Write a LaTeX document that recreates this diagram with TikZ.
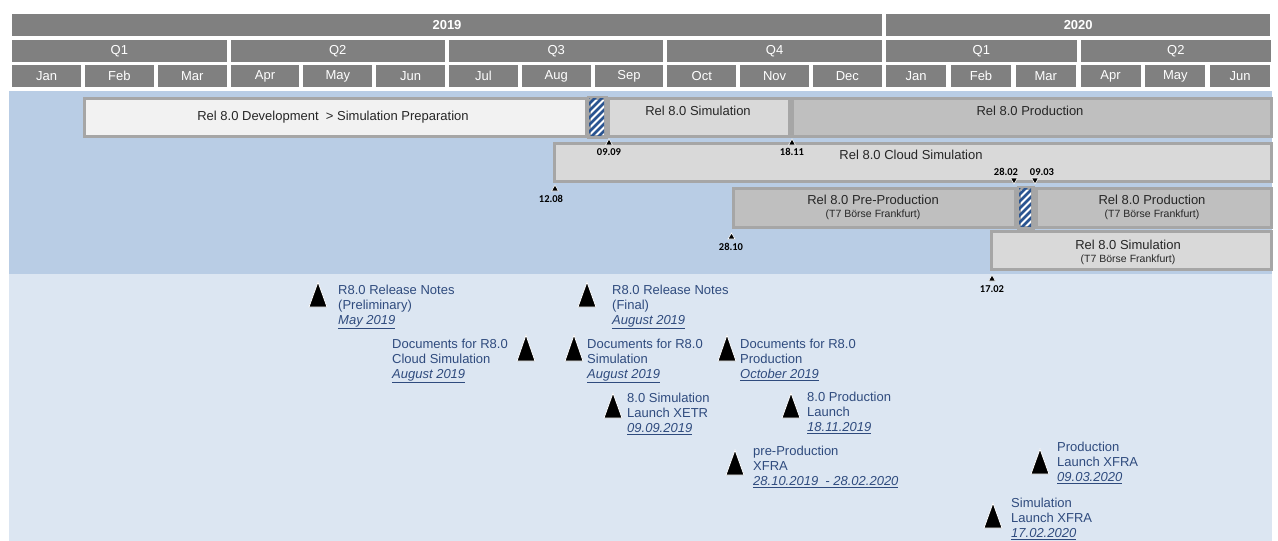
\documentclass[tikz,border=0pt]{standalone}
\usepackage{fontspec}
\setmainfont{Liberation Sans}
\newfontfamily\carlito{Carlito}
\usetikzlibrary{calc}
\definecolor{hdr}{HTML}{808080}
\definecolor{bandA}{HTML}{B9CDE5}
\definecolor{bandB}{HTML}{DCE6F2}
\definecolor{barL}{HTML}{F2F2F2}
\definecolor{barM}{HTML}{D9D9D9}
\definecolor{barD}{HTML}{BFBFBF}
\definecolor{brd}{HTML}{A6A6A6}
\definecolor{hatchblue}{HTML}{2A5490}
\definecolor{mstext}{HTML}{2F4B7E}
\definecolor{bartext}{HTML}{262626}
\newcommand\smalltxtfont{\fontsize{10.5}{12}\selectfont}
\newcommand\rectnode[6]{\node[#1, minimum width={#4-#2}, minimum height={#5-#3}, anchor=north west] (#6) at (#2,#3) {};}
\newcommand\mstri[4]{% name, cx, top, bottom
  \coordinate (#1) at (#2,#3);
  \fill[black, draw=white, line width=0.8pt] (#2-9,#4) -- (#2+9,#4) -- (#2,#3) -- cycle;}
\newcommand\uptri[3]{% name, cx, cy
  \coordinate (#1) at (#2,#3);
  \fill[black, draw=white, line width=0.6pt] (#2-3.5,#3+3) -- (#2+3.5,#3+3) -- (#2,#3-3) -- cycle;}
\newcommand\dntri[3]{%
  \coordinate (#1) at (#2,#3);
  \fill[black, draw=white, line width=0.6pt] (#2-3.5,#3-3) -- (#2+3.5,#3-3) -- (#2,#3+3) -- cycle;}
\newcommand\ulit[1]{\underline{\textit{#1}}}
\begin{document}
\begin{tikzpicture}[x=1pt,y=-1pt,
  hbox/.style={fill=hdr, draw=none, text=white, inner sep=0pt, font=\fontsize{13}{13}\selectfont},
  bar/.style={draw=brd, line width=2.6pt, inner sep=0pt},
  bartxt/.style={text=bartext, inner sep=0pt, align=center, font=\fontsize{13}{15}\selectfont},
  ms/.style={text=mstext, inner sep=0pt, align=left, anchor=north west, font=\fontsize{13}{14.7}\selectfont},
  dlab/.style={font=\carlito\bfseries\fontsize{10.5}{11}\selectfont, inner sep=0pt, text=black}]
\useasboundingbox (0,0) rectangle (1278,541);
\fill[white] (0,0) rectangle (1278,541);
% bands
\fill[bandA] (9,90.5) rectangle (1272,274);
\fill[bandB] (9,274) rectangle (1272,541);
% header years
\node[hbox, font=\bfseries\fontsize{13}{13}\selectfont, minimum width=869.6, minimum height=22, anchor=north west] (y2019) at (12,14) {2019};
\node[hbox, font=\bfseries\fontsize{13}{13}\selectfont, minimum width=384, minimum height=22, anchor=north west] (y2020) at (886,14) {2020};
% quarters
\foreach \q [count=\i from 0] in {Q1,Q2,Q3,Q4}
  \node[hbox, minimum width=214.4, minimum height=21.5, anchor=north west] (q19-\i) at ({12+218.4*\i},40) {\q};
\foreach \q [count=\i from 0] in {Q1,Q2}
  \node[hbox, minimum width=190.4, minimum height=21.5, anchor=north west] (q20-\i) at ({886+194.4*\i},40) {\q};
% months
\foreach \m [count=\i from 0] in {Jan,Feb,Mar,Apr,May,Jun,Jul,Aug,Sep,Oct,Nov,Dec}
  \node[hbox, minimum width=68.8, minimum height=21.5, anchor=north west] (m19-\i) at ({12+72.8*\i},65) {\m};
\foreach \m [count=\i from 0] in {Jan,Feb,Mar,Apr,May,Jun}
  \node[hbox, minimum width=60, minimum height=21.5, anchor=north west] (m20-\i) at ({886+64.8*\i},65) {\m};
% bars row 1
\rectnode{bar, fill=barL}{83}{97}{585}{135}{dev}
\rectnode{bar, fill=white}{588}{97}{604}{135}{hatchA}
\rectnode{bar, fill=barM}{607}{97}{788}{135}{sim}
\rectnode{bar, fill=barD}{791}{97}{1270}{135}{prod}
% cloud
\rectnode{bar, fill=barM}{553}{142}{1270}{180}{cloud}
% row 3
\rectnode{bar, fill=barD}{732}{187}{1014}{226}{preprod}
\rectnode{bar, fill=white}{1018}{187}{1031}{226}{hatchB}
\rectnode{bar, fill=barD}{1035}{187}{1270}{226}{prodT}
% row 4
\rectnode{bar, fill=barM}{990}{230}{1270}{268}{simT}
% hatching
\begin{scope}
  \clip (588,97) rectangle (604,135);
  \foreach \k in {-70,-63,...,30}
    \draw[hatchblue, line width=2.6pt] (588+\k,140) -- (638+\k,90);
\end{scope}
\begin{scope}
  \clip (1018,187) rectangle (1031,226);
  \foreach \k in {-70,-63,...,30}
    \draw[hatchblue, line width=2.6pt] (1018+\k,231) -- (1068+\k,181);
\end{scope}
\draw[brd, line width=2.6pt] (hatchA.north west) rectangle (hatchA.south east);
\draw[brd, line width=2.6pt] (hatchB.north west) rectangle (hatchB.south east);
% bar texts
\node[bartxt] (devtxt) at (333,117) {Rel 8.0 Development~ > Simulation Preparation};
\node[bartxt] (simtxt) at (698,111) {Rel 8.0 Simulation};
\node[bartxt] (prodtxt) at (1030,111) {Rel 8.0 Production};
\node[bartxt] (cloudtxt) at (911,155) {Rel 8.0 Cloud Simulation};
\node[bartxt, anchor=north] (preprodtxt) at (873,195) {Rel 8.0 Pre-Production\\[-2pt]{\smalltxtfont (T7 Börse Frankfurt)}};
\node[bartxt, anchor=north] (prodTtxt) at (1152,195) {Rel 8.0 Production\\[-2pt]{\smalltxtfont (T7 Börse Frankfurt)}};
\node[bartxt, anchor=north] (simTtxt) at (1128,240) {Rel 8.0 Simulation\\[-2pt]{\smalltxtfont (T7 Börse Frankfurt)}};
% date markers
\uptri{d0909}{609}{142}
\node[dlab] (l0909) at (609,152) {09.09};
\uptri{d1811}{792}{142}
\node[dlab] (l1811) at (792,152) {18.11};
\uptri{d1208}{555}{188}
\node[dlab] (l1208) at (551,199) {12.08};
\node[dlab] (l2802) at (1006,172) {28.02};
\dntri{d2802}{1014}{181}
\node[dlab] (l0903) at (1042,172) {09.03};
\dntri{d0903}{1035}{181}
\uptri{d2810}{731.5}{236}
\node[dlab] (l2810) at (731,247) {28.10};
\uptri{d1702}{992}{278}
\node[dlab] (l1702) at (992,289) {17.02};
% milestones
\mstri{t1}{318}{282}{307}
\node[ms] (n1) at (338,285.3) {R8.0 Release Notes\\(Preliminary)\\\ulit{May 2019}};
\mstri{t2}{587}{282}{307}
\node[ms] (n2) at (612,285.3) {R8.0 Release Notes\\(Final)\\\ulit{August 2019}};
\mstri{t3}{526}{335}{361}
\node[ms] (n3) at (392,339.3) {Documents for R8.0\\Cloud Simulation\\\ulit{August 2019}};
\mstri{t4}{574}{335}{361}
\node[ms] (n4) at (587,339.3) {Documents for R8.0\\Simulation\\\ulit{August 2019}};
\mstri{t5}{727}{335}{361}
\node[ms] (n5) at (740,339.3) {Documents for R8.0\\Production\\\ulit{October 2019}};
\mstri{t6}{613}{393}{418}
\node[ms] (n6) at (627,393.3) {8.0 Simulation\\Launch XETR\\\ulit{09.09.2019}};
\mstri{t7}{791}{393}{418}
\node[ms] (n7) at (807,392.3) {8.0 Production\\Launch\\\ulit{18.11.2019}};
\mstri{t8}{735}{450}{475}
\node[ms] (n8) at (753,446.3) {pre-Production\\XFRA\\\ulit{28.10.2019~ - 28.02.2020}};
\mstri{t9}{1040}{449}{474}
\node[ms] (n9) at (1057,442.3) {Production\\Launch XFRA\\\ulit{09.03.2020}};
\mstri{t10}{993}{503}{528}
\node[ms] (n10) at (1011,498.3) {Simulation\\Launch XFRA\\\ulit{17.02.2020}};
\end{tikzpicture}
\end{document}
